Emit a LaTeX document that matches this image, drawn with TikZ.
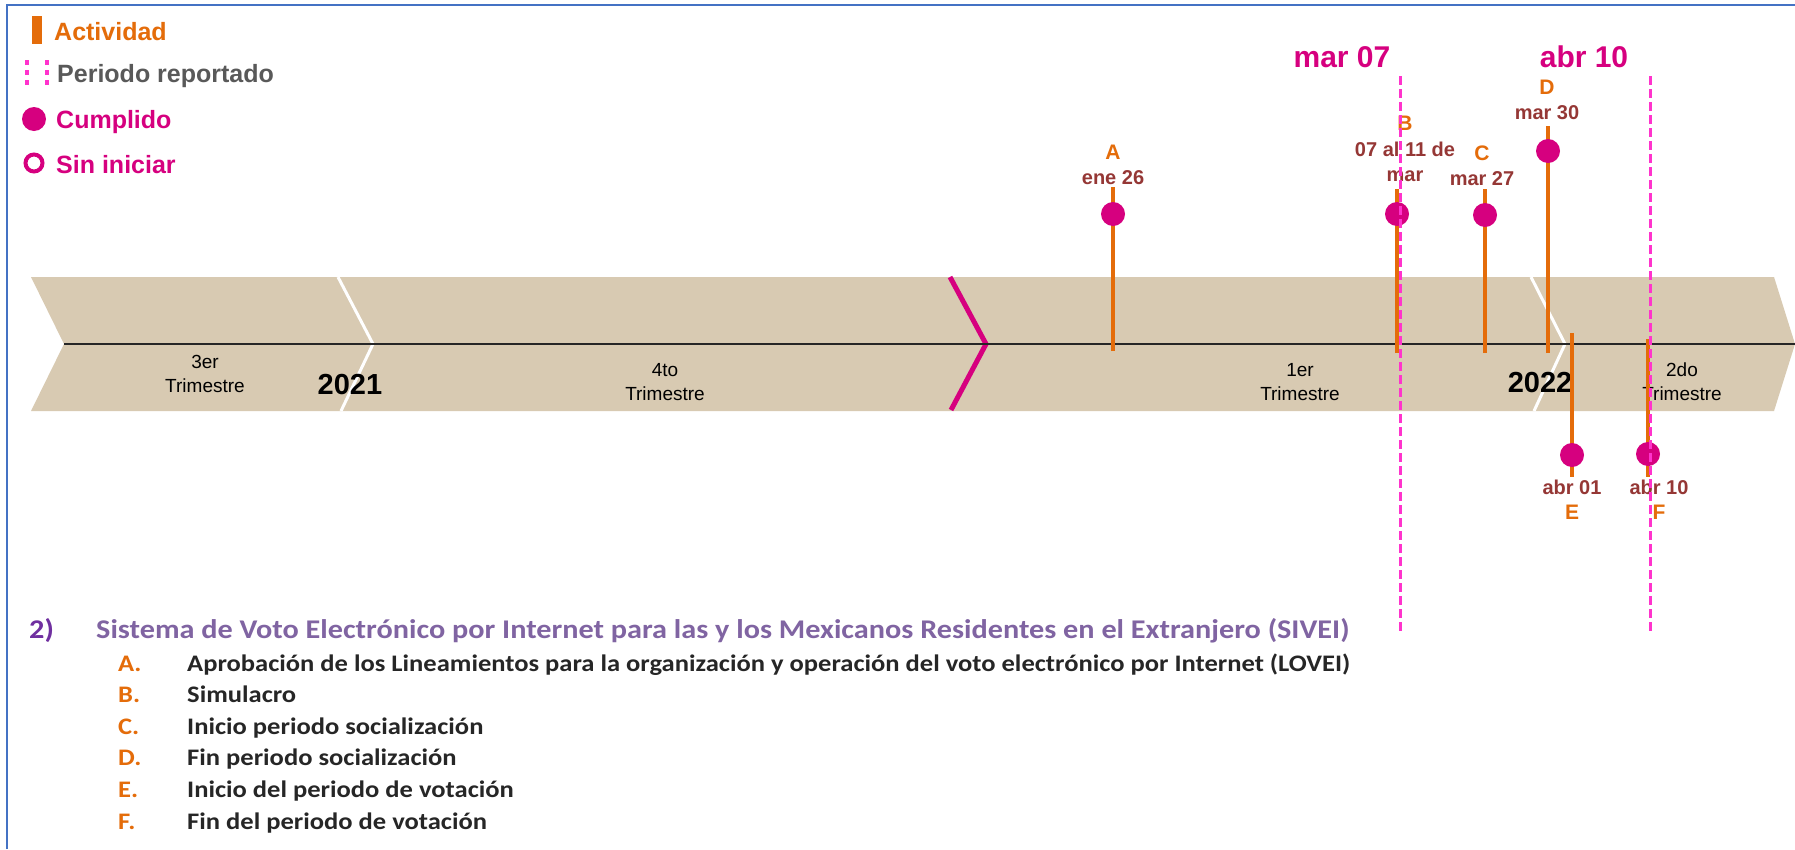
\documentclass[tikz,border=0pt]{standalone}
\usepackage{fontspec}
\setmainfont{Liberation Sans}
\newfontfamily\listfont[FakeStretch=1.12]{Carlito}
\usepackage{xcolor}
\usepackage{tikz}
\usetikzlibrary{positioning}

\definecolor{naranja}{HTML}{E46C0A}
\definecolor{cumplido}{HTML}{D6007F}
\definecolor{rosa}{HTML}{FF33CC}
\definecolor{fechatxt}{HTML}{953735}
\definecolor{banda}{HTML}{D8CAB2}
\definecolor{morado}{HTML}{7030A0}
\definecolor{lila}{HTML}{8064A2}
\definecolor{borde}{HTML}{4472C4}
\definecolor{gris}{HTML}{595959}

\begin{document}
\begin{tikzpicture}[x=1pt,y=-1pt,
    actividad/.style={naranja,line width=4.5pt},
    hito/.style={circle,fill=cumplido,inner sep=0pt,minimum size=24pt},
    letra/.style={text=naranja,inner sep=0pt,font=\fontsize{21}{21}\selectfont\bfseries},
    fecha/.style={text=fechatxt,inner sep=0pt,align=center,font=\fontsize{20}{25}\selectfont\bfseries},
    corte/.style={text=cumplido,inner sep=0pt,font=\fontsize{30}{30}\selectfont\bfseries},
    periodo/.style={rosa,line width=3pt,dash pattern=on 9pt off 4pt},
    trimestre/.style={inner sep=0pt,align=center,font=\fontsize{19}{24}\selectfont},
    anio/.style={inner sep=0pt,font=\fontsize{29}{29}\selectfont\bfseries},
    leyenda/.style={anchor=base west,inner sep=0pt,font=\fontsize{25}{25}\selectfont\bfseries},
    inciso/.style={anchor=base west,inner sep=0pt,text=black!85,font=\listfont\fontsize{23.7}{23.7}\selectfont\bfseries},
    titulo/.style={inciso,font=\listfont\fontsize{27}{27}\selectfont\bfseries}
  ]
  % fondo y marco
  \fill[white] (0,0) rectangle (1795,849);
  \useasboundingbox (0,0) rectangle (1795,849);
  \draw[borde,line width=2.5pt] (7,849) -- (7,5) -- (1795,5);

  % leyenda
  \fill[naranja] (32,16) rectangle (42,44);
  \node[leyenda,text=naranja] (actividad) at (54,40) {Actividad};
  \draw[rosa,line width=4.5pt,dash pattern=on 4.5pt off 5.5pt] (27,60) -- (27,86);
  \draw[rosa,line width=4.5pt,dash pattern=on 4.5pt off 5.5pt] (47,60) -- (47,86);
  \node[leyenda,text=gris] (reportado) at (57,82) {Periodo reportado};
  \node[hito] (legcumplido) at (34,119) {};
  \node[leyenda,text=cumplido] (cumplidotxt) at (56,128) {Cumplido};
  \node[circle,draw=cumplido,line width=4pt,inner sep=0pt,minimum size=17pt] (legsin) at (34,163) {};
  \node[leyenda,text=cumplido] (sintxt) at (56,173) {Sin iniciar};

  % banda de trimestres
  \fill[banda] (31,277) -- (1774,277) -- (1795,344) -- (1774,411) -- (31,411) -- (64,344) -- cycle;
  \draw[white,line width=3pt] (338,277) -- (373,344) -- (341,411);
  \draw[white,line width=3pt] (1531,277) -- (1565,344) -- (1534,411);
  \draw[cumplido,line width=5pt] (950,277) -- (986,344) -- (951,410);
  \coordinate (ini) at (64,344);
  \coordinate (fin) at (1795,344);
  \draw[black!85,line width=2.5pt] (ini) -- (fin);

  \node[trimestre] (t3) at (205,374) {3er\\Trimestre};
  \node[trimestre] (t4) at (665,382) {4to\\Trimestre};
  \node[trimestre] (t1) at (1300,382) {1er\\Trimestre};
  \node[trimestre] (t2) at (1682,382) {2do\\Trimestre};
  \node[anio] (a2021) at (350,385) {2021};
  \node[anio] (a2022) at (1540,383) {2022};

  % A: ene 26
  \coordinate (baseA) at (1113,351);
  \coordinate (topeA) at (1113,187);
  \draw[actividad] (baseA) -- (topeA);
  \node[hito] (hitoA) at (1113,214) {};
  \node[fecha] (fechaA) at (1113,178) {ene 26};
  \node[letra,above=11pt of fechaA] (letraA) {A};

  % B: simulacro
  \coordinate (baseB) at (1397,353);
  \coordinate (topeB) at (1397,189);
  \draw[actividad] (baseB) -- (topeB);
  \node[hito] (hitoB) at (1397,214) {};
  \node[fecha] (fechaB) at (1405,162) {07 al 11 de\\mar};
  \node[letra,above=11pt of fechaB] (letraB) {B};

  % C: mar 27
  \coordinate (baseC) at (1485,353);
  \coordinate (topeC) at (1485,189);
  \draw[actividad] (baseC) -- (topeC);
  \node[hito] (hitoC) at (1485,215) {};
  \node[fecha] (fechaC) at (1482,179) {mar 27};
  \node[letra,above=11pt of fechaC] (letraC) {C};

  % D: mar 30
  \coordinate (baseD) at (1548,353);
  \coordinate (topeD) at (1548,126);
  \draw[actividad] (baseD) -- (topeD);
  \node[hito] (hitoD) at (1548,151) {};
  \node[fecha] (fechaD) at (1547,113) {mar 30};
  \node[letra,above=11pt of fechaD] (letraD) {D};

  % E: abr 01
  \coordinate (baseE) at (1572,333);
  \coordinate (topeE) at (1572,477);
  \draw[actividad] (baseE) -- (topeE);
  \node[hito] (hitoE) at (1572,455) {};
  \node[fecha] (fechaE) at (1572,487) {abr 01};
  \node[letra,below=10pt of fechaE] (letraE) {E};

  % F: abr 10
  \coordinate (baseF) at (1648,339);
  \coordinate (topeF) at (1648,477);
  \draw[actividad] (baseF) -- (topeF);
  \node[hito] (hitoF) at (1648,454) {};
  \node[fecha] (fechaF) at (1659,487) {abr 10};
  \node[letra,below=10pt of fechaF] (letraF) {F};

  % periodo reportado
  \node[corte] (corte1) at (1342,57) {mar 07};
  \node[corte] (corte2) at (1584,57) {abr 10};
  \coordinate (p1a) at (1400,76);
  \coordinate (p1b) at (1400,632);
  \coordinate (p2a) at (1650,76);
  \coordinate (p2b) at (1650,632);
  \draw[periodo] (p1a) -- (p1b);
  \draw[periodo] (p2a) -- (p2b);

  % lista de actividades
  \node[titulo,text=morado] (num) at (29,638) {2)};
  \node[titulo,text=lila] (tit) at (96,638)
    {Sistema de Voto Electrónico por Internet para las y los Mexicanos Residentes en el Extranjero (SIVEI)};
  \node[inciso,text=naranja] (iA) at (118,671) {A.};
  \node[inciso] (txtA) at (187,671) {Aprobación de los Lineamientos para la organización y operación del voto electrónico por Internet (LOVEI)};
  \node[inciso,text=naranja] (iB) at (118,702.6) {B.};
  \node[inciso] (txtB) at (187,702.6) {Simulacro};
  \node[inciso,text=naranja] (iC) at (118,734.2) {C.};
  \node[inciso] (txtC) at (187,734.2) {Inicio periodo socialización};
  \node[inciso,text=naranja] (iD) at (118,765.8) {D.};
  \node[inciso] (txtD) at (187,765.8) {Fin periodo socialización};
  \node[inciso,text=naranja] (iE) at (118,797.4) {E.};
  \node[inciso] (txtE) at (187,797.4) {Inicio del periodo de votación};
  \node[inciso,text=naranja] (iF) at (118,829) {F.};
  \node[inciso] (txtF) at (187,829) {Fin del periodo de votación};
\end{tikzpicture}
\end{document}
